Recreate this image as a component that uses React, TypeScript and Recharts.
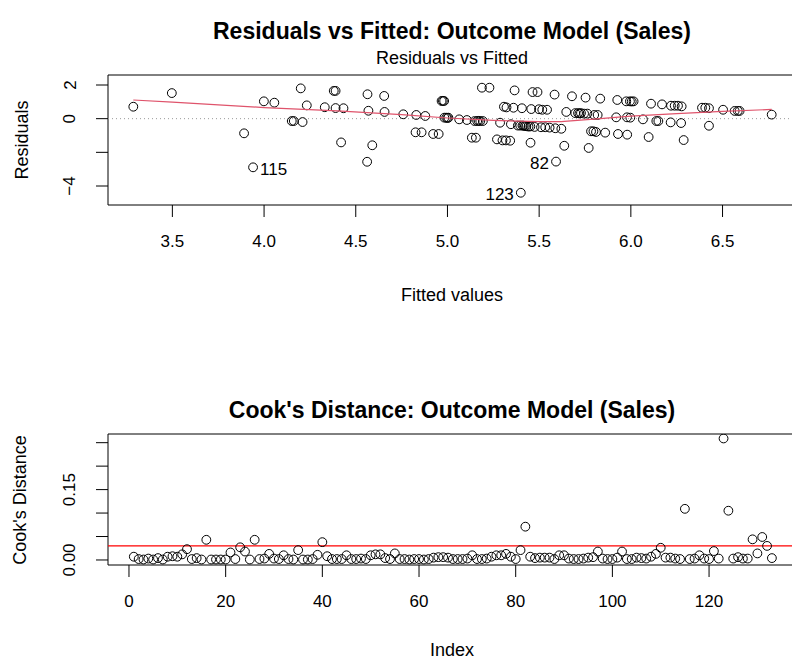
import { ScatterChart, Scatter, XAxis, YAxis, ReferenceLine, ReferenceArea } from 'recharts';

// fitted values / residuals of the outcome model
const fittedValues = [
  3.287, 3.497, 3.891, 3.94, 3.999, 4.056, 4.151, 4.162, 4.21, 4.2,
  4.233, 4.331, 4.38, 4.39, 4.39, 4.433, 4.42, 4.564, 4.655, 4.569,
  4.657, 4.59, 4.562, 4.759, 4.83, 4.879, 4.826, 4.859, 4.922, 4.952,
  4.968, 4.982, 4.983, 4.993, 5.005, 5.064, 5.106, 5.133, 5.155, 5.148,
  5.162, 5.179, 5.193, 5.188, 5.229, 5.366, 5.464, 5.491, 5.584, 5.679,
  5.753, 5.833, 5.926, 5.975, 5.995, 6.015, 5.308, 5.322, 5.36, 5.406,
  5.457, 5.499, 5.517, 5.543, 5.648, 5.697, 5.712, 5.728, 5.745, 5.763,
  5.8, 5.819, 5.92, 5.979, 5.287, 5.346, 5.384, 5.397, 5.409, 5.422,
  5.442, 5.475, 5.51, 5.533, 5.557, 5.588, 5.621, 5.27, 5.3, 5.319,
  5.342, 5.453, 5.637, 5.77, 5.592, 5.783, 5.796, 5.81, 5.86, 5.93,
  5.98, 5.4, 6.11, 6.17, 6.219, 6.239, 6.257, 6.277, 6.388, 6.406,
  6.426, 6.503, 6.566, 6.583, 6.593, 6.768, 5.997, 6.066, 6.139, 6.15,
  6.217, 6.274, 6.426, 6.097, 6.288, 5.0, 5.415, 5.43, 5.452, 5.72,
  6.005, 5.17, 4.975,
];
const residuals = [
  0.71, 1.52, -0.87, -2.89, 1.03, 0.95, -0.14, -0.14, -0.2, 1.8,
  0.79, 0.68, 1.65, 1.65, 0.63, 0.62, -1.41, 1.45, 1.35, 0.47,
  0.4, -1.58, -2.56, 0.26, 0.22, 0.16, -0.81, -0.81, -0.91, -0.91,
  1.05, 1.05, 0.06, 0.06, 0.06, -0.04, -0.08, -1.13, -1.13, -0.14,
  -0.14, -0.14, -0.14, 1.84, 1.84, 1.68, 1.58, 1.58, 1.43, 1.33,
  1.25, 1.19, 1.11, 1.03, 1.03, 1.03, 0.71, 0.67, 0.65, 0.62,
  0.57, 0.56, 0.53, 0.53, 0.4, 0.33, 0.33, 0.33, 0.3, 0.3,
  0.22, 0.22, 0.08, 0.08, -0.24, -0.33, -0.41, -0.41, -0.41, -0.43,
  -0.47, -0.49, -0.51, -0.51, -0.53, -0.57, -0.6, -1.23, -1.29, -1.29,
  -1.31, -1.43, -1.61, -1.74, -2.55, -0.75, -0.75, -0.79, -0.83, -0.91,
  -0.95, -4.4, 0.89, 0.85, 0.77, 0.77, 0.77, 0.73, 0.65, 0.65,
  0.62, 0.53, 0.46, 0.46, 0.46, 0.24, 0.06, -0.04, -0.14, -0.14,
  -0.22, -0.26, -0.42, -1.09, -1.27, 0.04, -0.42, -0.45, -0.46, 0.31,
  1.02, -0.13, 1.06,
];
// observation ids printed next to the largest residuals
const flaggedPoints = [
  { at: 3, id: '115' },
  { at: 94, id: '82' },
  { at: 101, id: '123' },
];

// red smoother through the residuals
const smoothFitted = [3.287, 3.5, 4.0, 4.4, 4.75, 5.0, 5.25, 5.5, 5.62, 5.85, 6.0, 6.25, 6.5, 6.768];
const smoothResid = [1.11, 0.98, 0.66, 0.46, 0.24, 0.04, -0.1, -0.18, -0.18, 0.02, 0.15, 0.3, 0.43, 0.55];

// Cook's distance by observation index 1..133
const cooksDistance = [
  0.007, 0.002, 0.001, 0.003, 0.001, 0.004, 0.001, 0.007, 0.008, 0.007,
  0.012, 0.023, 0.002, 0.004, 0.001, 0.043, 0.001, 0.001, 0.001, 0.001,
  0.016, 0.002, 0.027, 0.018, 0.001, 0.043, 0.002, 0.003, 0.013, 0.003,
  0.002, 0.01, 0.002, 0.001, 0.021, 0.001, 0.001, 0.002, 0.011, 0.038,
  0.008, 0.002, 0.002, 0.002, 0.01, 0.002, 0.002, 0.003, 0.002, 0.01,
  0.012, 0.012, 0.004, 0.002, 0.014, 0.002, 0.002, 0.001, 0.002, 0.002,
  0.001, 0.002, 0.005, 0.006, 0.006, 0.005, 0.002, 0.002, 0.002, 0.003,
  0.01, 0.002, 0.002, 0.003, 0.007, 0.01, 0.01, 0.013, 0.007, 0.002,
  0.021, 0.071, 0.007, 0.004, 0.005, 0.005, 0.005, 0.002, 0.01, 0.01,
  0.003, 0.002, 0.002, 0.003, 0.005, 0.006, 0.018, 0.003, 0.002, 0.002,
  0.005, 0.018, 0.002, 0.002, 0.005, 0.004, 0.003, 0.007, 0.013, 0.026,
  0.005, 0.005, 0.003, 0.002, 0.109, 0.002, 0.003, 0.01, 0.003, 0.002,
  0.019, 0.003, 0.259, 0.105, 0.003, 0.006, 0.003, 0.003, 0.044, 0.014,
  0.049, 0.03, 0.004,
];
const cookCutoff = 0.03;

const fittedTicks = [3.5, 4.0, 4.5, 5.0, 5.5, 6.0, 6.5];
const fittedTickLabels = ['3.5', '4.0', '4.5', '5.0', '5.5', '6.0', '6.5'];
const residTicks = [-4, -2, 0, 2];
const residTickLabels = ['\u22124', '', '0', '2'];
const indexTicks = [0, 20, 40, 60, 80, 100, 120];
const indexTickLabels = ['0', '20', '40', '60', '80', '100', '120'];
const cookTicks = [0, 0.05, 0.1, 0.15, 0.2, 0.25];
const cookTickLabels = ['0.00', '', '', '0.15', '', ''];

const residData = fittedValues.map((x, i) => ({
  x,
  y: residuals[i],
  id: flaggedPoints.find((f) => f.at === i)?.id,
}));
const smoothData = smoothFitted.map((x, i) => ({ x, y: smoothResid[i] }));
const cookData = cooksDistance.map((y, i) => ({ x: i + 1, y }));

const FONT = '"Liberation Sans", Arial, Helvetica, sans-serif';
const TICK_FONT = 17;
const LABEL_FONT = 18;
const TITLE_FONT = 23;

const resXDomain = [3.149, 6.906];
const resYDomain = [-5.128, 2.594];
const cookXDomain = [-4.34, 138.4];
const cookYDomain = [-0.0107, 0.2685];

const XTick = (props: any) => {
  const { x, y, payload, labels, ticks } = props;
  const i = ticks.indexOf(payload.value);
  return (
    <g>
      <line x1={x} x2={x} y1={y} y2={y + 12} stroke="#000" />
      <text x={x} y={y + 36} textAnchor="middle" dominantBaseline="central" fontSize={TICK_FONT} fontFamily={FONT} fill="#000">
        {labels[i]}
      </text>
    </g>
  );
};

const YTick = (props: any) => {
  const { x, y, payload, labels, ticks } = props;
  const i = ticks.indexOf(payload.value);
  return (
    <g>
      <line x1={x - 12} x2={x} y1={y} y2={y} stroke="#000" />
      <text
        x={x - 38}
        y={y}
        textAnchor="middle"
        dominantBaseline="central"
        fontSize={TICK_FONT}
        fontFamily={FONT}
        fill="#000"
        transform={`rotate(-90, ${x - 38}, ${y})`}
      >
        {labels[i]}
      </text>
    </g>
  );
};

const Ring = (props: any) => {
  const { cx, cy, payload } = props;
  const id = payload?.id;
  const right = payload && payload.x < 4.5;
  return (
    <g>
      <circle cx={cx} cy={cy} r={4.4} fill="none" stroke="#000" strokeWidth={1} />
      {id && (
        <text
          x={right ? cx + 7 : cx - 7}
          y={cy + 2}
          textAnchor={right ? 'start' : 'end'}
          dominantBaseline="central"
          fontSize={TICK_FONT}
          fontFamily={FONT}
          fill="#000"
        >
          {id}
        </text>
      )}
    </g>
  );
};

const NoDot = () => <g />;

const textBase: React.CSSProperties = {
  position: 'absolute',
  whiteSpace: 'nowrap',
  lineHeight: 1,
  fontFamily: FONT,
  color: '#000',
};

function Label({ x, y, size, bold, rotate, children }: any) {
  return (
    <div
      style={{
        ...textBase,
        left: x,
        top: y,
        fontSize: size,
        fontWeight: bold ? 'bold' : 'normal',
        transform: `translate(-50%, -50%)${rotate ? ' rotate(-90deg)' : ''}`,
      }}
    >
      {children}
    </div>
  );
}

export default function App() {
  return (
    <div
      style={{
        position: 'absolute',
        left: 0,
        top: 0,
        width: 792,
        height: 662,
        overflow: 'hidden',
        background: '#fff',
        fontFamily: FONT,
      }}
    >
      <div style={{ position: 'absolute', left: 0, top: 0 }}>
        <ScatterChart width={800} height={331} margin={{ top: 75, right: 3, bottom: 86, left: 68 }}>
          <XAxis
            type="number"
            dataKey="x"
            domain={resXDomain}
            ticks={fittedTicks}
            interval={0}
            allowDataOverflow
            axisLine={false}
            tickLine={false}
            tickSize={0}
            tickMargin={0}
            height={40}
            tick={<XTick ticks={fittedTicks} labels={fittedTickLabels} />}
          />
          <YAxis
            type="number"
            dataKey="y"
            domain={resYDomain}
            ticks={residTicks}
            interval={0}
            allowDataOverflow
            axisLine={false}
            tickLine={false}
            tickSize={0}
            tickMargin={0}
            width={40}
            tick={<YTick ticks={residTicks} labels={residTickLabels} />}
          />
          <ReferenceLine y={0} stroke="#9a9a9a" strokeDasharray="1 3" />
          <Scatter data={residData} shape={<Ring />} isAnimationActive={false} />
          <Scatter
            data={smoothData}
            line={{ stroke: '#DF536B', strokeWidth: 1.2 }}
            lineType="joint"
            shape={<NoDot />}
            isAnimationActive={false}
          />
          <ReferenceArea
            x1={resXDomain[0]}
            x2={resXDomain[1]}
            y1={resYDomain[0]}
            y2={resYDomain[1]}
            fill="none"
            stroke="#000"
            strokeWidth={1}
          />
        </ScatterChart>
      </div>

      <div style={{ position: 'absolute', left: 0, top: 331 }}>
        <ScatterChart width={800} height={331} margin={{ top: 103, right: 2, bottom: 57, left: 68 }}>
          <XAxis
            type="number"
            dataKey="x"
            domain={cookXDomain}
            ticks={indexTicks}
            interval={0}
            allowDataOverflow
            axisLine={false}
            tickLine={false}
            tickSize={0}
            tickMargin={0}
            height={40}
            tick={<XTick ticks={indexTicks} labels={indexTickLabels} />}
          />
          <YAxis
            type="number"
            dataKey="y"
            domain={cookYDomain}
            ticks={cookTicks}
            interval={0}
            allowDataOverflow
            axisLine={false}
            tickLine={false}
            tickSize={0}
            tickMargin={0}
            width={40}
            tick={<YTick ticks={cookTicks} labels={cookTickLabels} />}
          />
          <Scatter data={cookData} shape={<Ring />} isAnimationActive={false} />
          <ReferenceLine y={cookCutoff} stroke="#FF0000" strokeWidth={1.3} />
          <ReferenceArea
            x1={cookXDomain[0]}
            x2={cookXDomain[1]}
            y1={cookYDomain[0]}
            y2={cookYDomain[1]}
            fill="none"
            stroke="#000"
            strokeWidth={1}
          />
        </ScatterChart>
      </div>

      <Label x={452} y={31} size={TITLE_FONT} bold>
        Residuals vs Fitted: Outcome Model (Sales)
      </Label>
      <Label x={452} y={58} size={LABEL_FONT}>
        Residuals vs Fitted
      </Label>
      <Label x={452} y={295} size={LABEL_FONT}>
        Fitted values
      </Label>
      <Label x={22} y={140} size={LABEL_FONT} rotate>
        Residuals
      </Label>

      <Label x={452} y={410} size={TITLE_FONT} bold>
        Cook's Distance: Outcome Model (Sales)
      </Label>
      <Label x={20} y={500} size={LABEL_FONT} rotate>
        Cook's Distance
      </Label>
      <Label x={452} y={650} size={LABEL_FONT}>
        Index
      </Label>
    </div>
  );
}
